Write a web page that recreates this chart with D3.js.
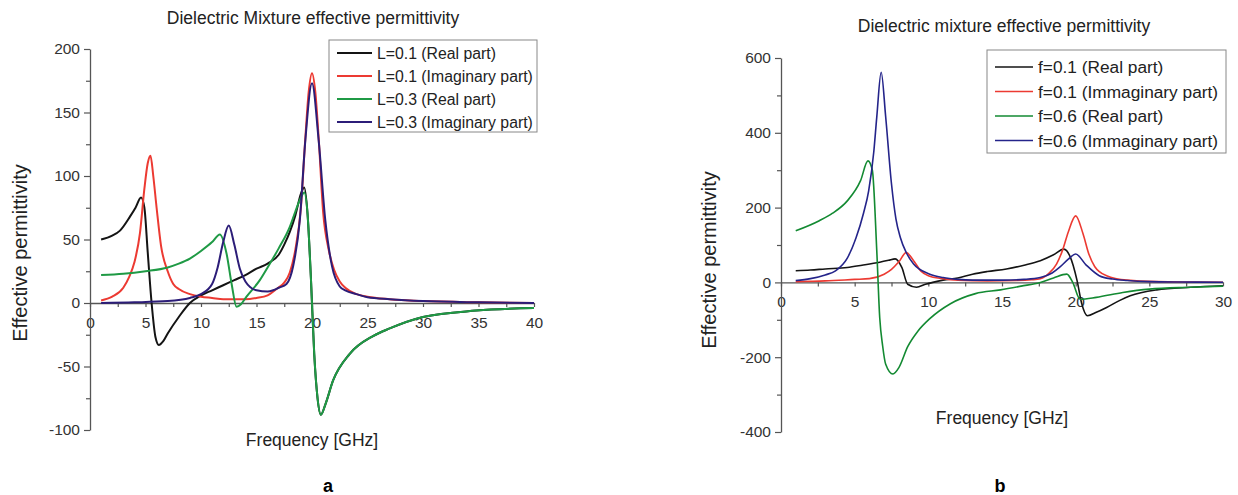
<!DOCTYPE html>
<html>
<head>
<meta charset="utf-8">
<script src="https://cdn.jsdelivr.net/npm/d3@7"></script>
<style>
  body { margin: 0; background: #fff; }
  svg text { font-family: "Liberation Sans", Arial, sans-serif; }
</style>
</head>
<body>
<div id="chart"></div>
<script>
'use strict';

// Panel a: L=0.1 / L=0.3
var aBlackF = [1, 2, 2.7, 3.6, 4.1, 4.6, 4.9, 5.2, 5.55, 5.9, 6.2, 6.6, 7, 8, 9, 10, 11, 12, 13, 14, 15, 16, 17, 17.5, 18, 18.5, 19, 19.3, 19.6, 19.9, 20.2, 20.5, 20.8, 21.2, 21.9, 23.4, 25.5, 27, 30, 34.8, 40];
var aBlackV = [50, 53, 57, 68, 75, 83, 75, 40, 0, -27, -33, -30, -24, -11, 0, 6, 10, 14, 18, 22, 27, 31, 38, 46, 56, 69, 86, 91, 70, 20, -40, -75, -88, -80, -61, -40, -26, -20, -11, -6, -4];

var aRedF = [1, 2, 3, 3.5, 4, 4.5, 4.9, 5.2, 5.45, 5.7, 6, 6.4, 7, 7.5, 8, 9, 10, 11, 12, 13, 14, 15, 16, 16.8, 17.5, 18, 18.5, 19, 19.4, 19.7, 20, 20.3, 20.6, 21, 21.5, 22, 22.5, 23, 24, 25, 27, 30, 35, 40];
var aRedV = [2, 5, 12, 20, 32, 55, 90, 110, 116, 100, 75, 45, 25, 15, 11, 7, 5, 4, 3, 3, 3, 4, 6, 11, 16, 24, 42, 75, 130, 166, 181, 166, 130, 72, 42, 26, 17, 12, 7, 5, 3, 1.5, 0.5, 0];

var aGreenF = [1, 3, 5, 7, 8, 9, 10, 11, 11.7, 12.3, 12.76, 13.2, 13.6, 14.1, 15.3, 16, 17, 18, 18.5, 19, 19.3, 19.6, 19.9, 20.2, 20.5, 20.8, 21.2, 21.9, 23.4, 25.5, 27, 30, 34.8, 40];
var aGreenV = [22, 23, 25, 28, 31, 35, 41, 48, 54, 39, 15, -3, -1, 5, 18, 28, 43, 60, 72, 83, 87, 70, 20, -40, -75, -88, -80, -61, -40, -26, -20, -11, -6, -4];

var aBlueF = [1, 4, 7, 9, 10, 11, 11.5, 12, 12.5, 13, 13.5, 14, 15, 16, 16.5, 17, 17.7, 18.3, 18.9, 19.4, 20, 20.6, 21.2, 21.8, 22.5, 23, 24, 25, 27, 30, 35, 40];
var aBlueV = [0, 0.5, 1.5, 4, 7, 15, 28, 48, 61, 46, 27, 17, 10, 9, 10, 12, 15, 29, 65, 128, 173, 128, 65, 29, 13, 10, 7, 4.5, 3, 1.5, 0.5, 0];

// Panel b: f=0.1 / f=0.6
var bBlackF = [1, 2, 3, 4.5, 5.5, 6.7, 7.3, 7.75, 8.2, 8.6, 9.2, 9.8, 10.3, 11, 12, 13, 14, 15.3, 16.5, 17.6, 18.5, 19.2, 19.6, 20.1, 20.4, 20.8, 21.4, 22.1, 23, 23.7, 25.5, 27.8, 30];
var bBlackV = [31, 33, 36, 40, 46, 54, 59, 63, 40, -5, -13, -5, 0, 6, 12, 22, 29, 36, 46, 58, 74, 89, 71, 4, -55, -89, -80, -67, -48, -36, -20, -13, -9];

var bRedF = [1, 3, 5, 6, 7, 7.5, 8, 8.5, 9, 9.5, 10, 11, 12, 14, 16, 17, 17.6, 18.2, 18.7, 19.1, 19.5, 20, 20.5, 20.9, 21.3, 22.1, 23.5, 25.5, 28, 30];
var bRedV = [2, 4, 8, 10, 22, 35, 55, 80, 58, 30, 18, 10, 6, 4, 5, 7, 10, 25, 49, 85, 135, 178, 130, 75, 42, 18, 6, 2, 1, 0.5];

var bGreenF = [1, 2.6, 3.5, 4.5, 5.4, 5.9, 6.2, 6.5, 6.7, 6.9, 7.1, 7.6, 8, 8.6, 9.3, 10.1, 11.5, 13.2, 14.9, 16.3, 17.6, 18.5, 19.4, 19.8, 20.3, 21.4, 23.2, 25, 27.8, 30];
var bGreenV = [138, 165, 185, 218, 272, 325, 300, 85, -94, -170, -218, -245, -228, -172, -130, -97, -57, -30, -20, -10, 0, 12, 22, 0, -45, -40, -27, -18, -13, -10];

var bBlueF = [1, 2, 3, 3.7, 4.5, 5.1, 5.6, 5.95, 6.3, 6.5, 6.8, 7.1, 7.5, 7.8, 8.1, 8.5, 9, 10.1, 11, 12, 13, 15.1, 16.5, 17.6, 18.4, 18.9, 19.5, 20, 20.7, 21.6, 22.5, 23.5, 25, 27, 30];
var bBlueV = [5, 10, 20, 31, 65, 120, 185, 245, 350, 442, 562, 445, 263, 170, 120, 80, 49, 22, 13, 8, 6, 6, 8, 13, 25, 40, 62, 76, 47, 18, 9, 5, 2, 1, 0.5];

var aLabels = ['L=0.1 (Real part)', 'L=0.1 (Imaginary part)', 'L=0.3 (Real part)', 'L=0.3 (Imaginary part)'];
var bLabels = ['f=0.1 (Real part)', 'f=0.1 (Immaginary part)', 'f=0.6 (Real part)', 'f=0.6 (Immaginary part)'];

var width = 1238, height = 495;

var svg = d3.select('#chart').append('svg')
  .attr('width', width)
  .attr('height', height);

function zip(fs, vs) {
  return fs.map(function(f, i) { return {f: f, v: vs[i]}; });
}

function drawPanel(opt) {
  var x = d3.scaleLinear().domain(opt.xDomain).range(opt.xRange);
  var y = d3.scaleLinear().domain(opt.yDomain).range(opt.yRange);
  var g = svg.append('g');

  // x axis sits on the zero line
  var xAxis = d3.axisBottom(x)
    .tickValues(opt.xTicks)
    .tickFormat(function(d) { return d % opt.xMajor === 0 ? d : ''; })
    .tickSize(4)
    .tickSizeOuter(0)
    .tickPadding(10);

  var gx = g.append('g')
    .attr('transform', 'translate(0,' + y(0) + ')')
    .call(xAxis);

  var yAxis = d3.axisLeft(y)
    .tickValues(opt.yTicks)
    .tickFormat(function(d) { return d % opt.yMajor === 0 ? d : ''; })
    .tickSize(6)
    .tickSizeOuter(0)
    .tickPadding(4);

  var gy = g.append('g')
    .attr('transform', 'translate(' + x(0) + ',0)')
    .call(yAxis);

  gy.selectAll('.tick line')
    .attr('x2', function(d) { return d % opt.yMajor === 0 ? -6 : -4; });

  [gx, gy].forEach(function(ax) {
    ax.select('.domain').attr('stroke', '#555').attr('stroke-width', 1.3);
    ax.selectAll('.tick line').attr('stroke', '#555').attr('stroke-width', 1.2);
    ax.selectAll('.tick text')
      .attr('fill', '#333')
      .style('font-size', '15.5px');
  });

  var line = d3.line()
    .x(function(d) { return x(d.f); })
    .y(function(d) { return y(d.v); })
    .curve(d3.curveMonotoneX);

  opt.series.forEach(function(s) {
    g.append('path')
      .datum(zip(s.f, s.v))
      .attr('fill', 'none')
      .attr('stroke', s.color)
      .attr('stroke-width', opt.lineWidth)
      .attr('stroke-linejoin', 'round')
      .attr('d', line);
  });

  // title and axis labels
  g.append('text')
    .attr('x', opt.titleX).attr('y', opt.titleY)
    .attr('text-anchor', 'middle')
    .attr('fill', '#222')
    .style('font-size', '17.5px')
    .text(opt.title);

  g.append('text')
    .attr('transform', 'translate(' + opt.yLabelX + ',' + opt.yLabelY + ') rotate(-90)')
    .attr('text-anchor', 'middle')
    .attr('fill', '#222')
    .style('font-size', '20px')
    .text('Effective permittivity');

  g.append('text')
    .attr('x', opt.xLabelX).attr('y', opt.xLabelY)
    .attr('text-anchor', 'middle')
    .attr('fill', '#222')
    .style('font-size', '17.5px')
    .text('Frequency [GHz]');

  g.append('text')
    .attr('x', opt.tagX).attr('y', 492)
    .attr('text-anchor', 'middle')
    .attr('fill', '#000')
    .style('font-size', '18px')
    .style('font-weight', 'bold')
    .text(opt.tag);

  // legend
  var lg = opt.legend;
  g.append('rect')
    .attr('x', lg.x).attr('y', lg.y)
    .attr('width', lg.w).attr('height', lg.h)
    .attr('fill', '#fff')
    .attr('stroke', '#888')
    .attr('stroke-width', 1);

  opt.series.forEach(function(s, i) {
    var cy = lg.y + lg.first + i * lg.step;
    g.append('line')
      .attr('x1', lg.x + 8).attr('x2', lg.x + 8 + lg.lineLen)
      .attr('y1', cy).attr('y2', cy)
      .attr('stroke', s.color)
      .attr('stroke-width', opt.lineWidth);
    g.append('text')
      .attr('x', lg.x + 13 + lg.lineLen).attr('y', cy)
      .attr('dy', '0.35em')
      .attr('fill', '#222')
      .style('font-size', lg.font)
      .text(opt.labels[i]);
  });
}

drawPanel({
  xDomain: [0, 40], xRange: [90, 534],
  yDomain: [-100, 200], yRange: [430, 49],
  xTicks: d3.range(0, 40.1, 2.5), xMajor: 5,
  yTicks: d3.range(-100, 200.1, 25), yMajor: 50,
  lineWidth: 2,
  series: [
    {f: aBlackF, v: aBlackV, color: '#141414'},
    {f: aRedF, v: aRedV, color: '#ec3a32'},
    {f: aGreenF, v: aGreenV, color: '#1f9a45'},
    {f: aBlueF, v: aBlueV, color: '#2c1d78'}
  ],
  labels: aLabels,
  title: 'Dielectric Mixture effective permittivity', titleX: 313, titleY: 24,
  yLabelX: 27, yLabelY: 253,
  xLabelX: 312, xLabelY: 446,
  tag: 'a', tagX: 328,
  legend: {x: 329, y: 40, w: 208, h: 92, first: 13, step: 23, lineLen: 35, font: '15.8px'}
});

drawPanel({
  xDomain: [0, 30], xRange: [781, 1223],
  yDomain: [-400, 600], yRange: [432, 58],
  xTicks: d3.range(0, 30.1, 2.5), xMajor: 5,
  yTicks: d3.range(-400, 600.1, 100), yMajor: 200,
  lineWidth: 1.6,
  series: [
    {f: bBlackF, v: bBlackV, color: '#141414'},
    {f: bRedF, v: bRedV, color: '#ec3a32'},
    {f: bGreenF, v: bGreenV, color: '#138a32'},
    {f: bBlueF, v: bBlueV, color: '#24248a'}
  ],
  labels: bLabels,
  title: 'Dielectric mixture effective permittivity', titleX: 1004, titleY: 32,
  yLabelX: 716, yLabelY: 260,
  xLabelX: 1002, xLabelY: 424,
  tag: 'b', tagX: 1000,
  legend: {x: 987, y: 50, w: 239, h: 103, first: 17, step: 24.5, lineLen: 38, font: '17.3px'}
});
</script>
</body>
</html>
